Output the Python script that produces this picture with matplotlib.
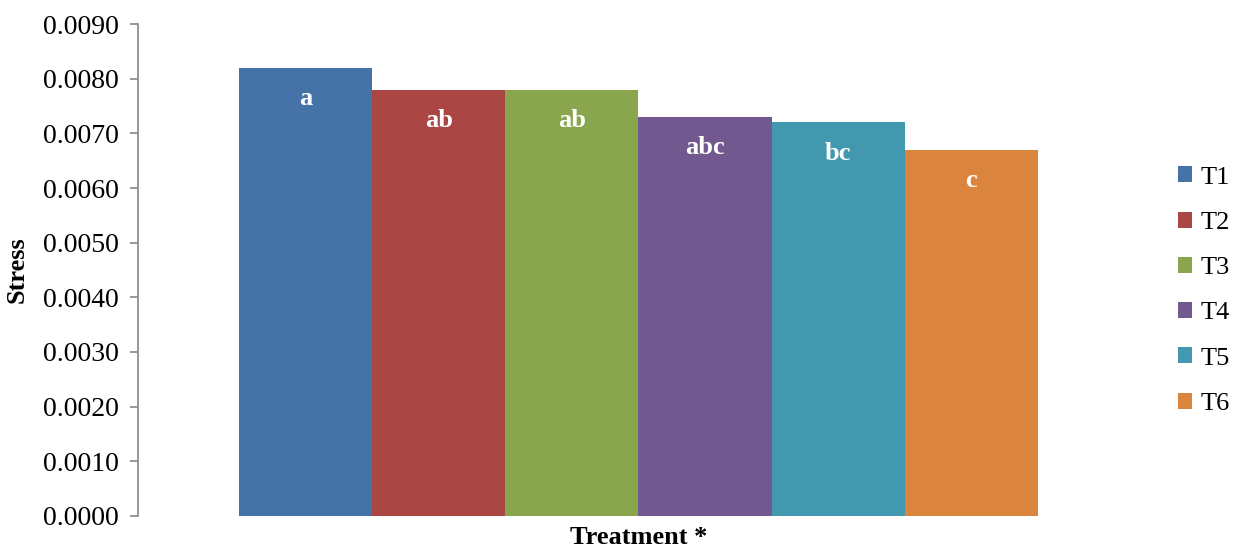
import matplotlib
matplotlib.use("Agg")
import matplotlib.pyplot as plt
from matplotlib.ticker import FormatStrFormatter, MultipleLocator
from matplotlib.patches import Patch

treatments = ["T1", "T2", "T3", "T4", "T5", "T6"]
stress = [0.0082, 0.0078, 0.0078, 0.0073, 0.0072, 0.0067]
letters = ["a", "ab", "ab", "abc", "bc", "c"]
colors = ["#4572A7", "#AA4643", "#89A54E", "#71588F", "#4198AF", "#DB843D"]

plt.rcParams["font.family"] = ["Liberation Serif", "DejaVu Serif"]

fig = plt.figure(figsize=(12.38, 5.48), dpi=100)
ax = fig.add_axes([0.1115, 0.0584, 0.8085, 0.8978])

n = len(treatments)
xs = [i - (n - 1) / 2 for i in range(n)]
bars = ax.bar(xs, stress, width=1.0, color=colors, linewidth=0)

for x, v, lab in zip(xs, stress, letters):
    ax.annotate(lab, (x, v), xytext=(0, -31), textcoords="offset pixels",
                ha="center", va="center", color="white", fontweight="bold", fontsize=19)

ax.set_xlim(-3.76, 3.76)
ax.set_ylim(0, 0.009)
ax.yaxis.set_major_locator(MultipleLocator(0.001))
ax.yaxis.set_major_formatter(FormatStrFormatter("%.4f"))
ax.set_xticks([])

for s in ["top", "right", "bottom"]:
    ax.spines[s].set_visible(False)
ax.spines["left"].set_color("#888888")
ax.spines["left"].set_linewidth(1.2)
ax.tick_params(axis="y", direction="out", length=6, width=1.2, color="#888888",
               labelsize=20, pad=8)

ax.set_ylabel("Stress", fontweight="bold", fontsize=19, labelpad=10)
ax.set_xlabel("Treatment *", fontweight="bold", fontsize=19, labelpad=7)

handles = [Patch(facecolor=c, edgecolor="none") for c in colors]
fig.legend(handles, treatments, loc="center left", bbox_to_anchor=(0.9515, 0.4695),
           frameon=False, fontsize=19, handlelength=0.55, handleheight=0.55,
           handletextpad=0.3, labelspacing=0.87, borderpad=0, borderaxespad=0)

fig.savefig("out.png", dpi=100)
